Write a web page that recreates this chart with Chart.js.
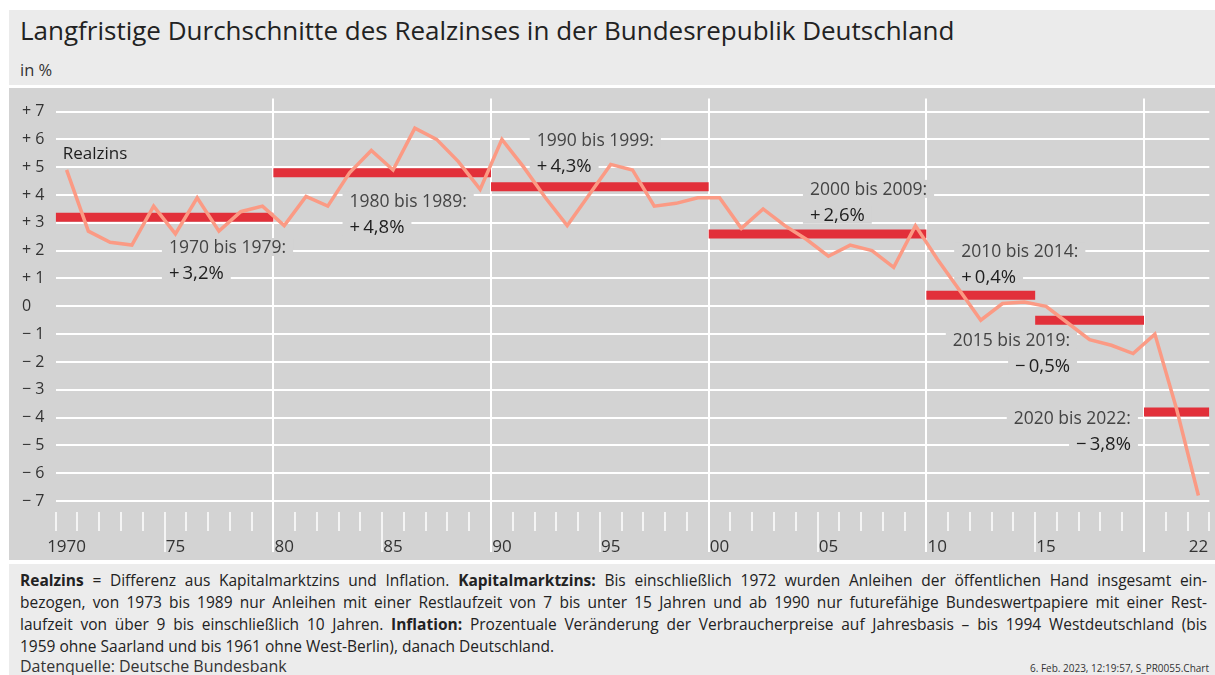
<!doctype html>
<html>

<head>
  <meta charset="utf-8">
  <script src="https://cdn.jsdelivr.net/npm/chart.js@4/dist/chart.umd.min.js"></script>
  <style>
    body { margin: 0; background: #fff; font-family: "Open Sans", sans-serif; color: #222; }
    #head { position: absolute; left: 9px; top: 10px; width: 1206px; height: 75px; background: #ebebeb; }
    #title { position: absolute; left: 11px; top: 4px; font-size: 26px; line-height: 32px; color: #222; white-space: nowrap; }
    #unit { position: absolute; left: 11px; top: 49px; font-size: 16.5px; line-height: 22px; color: #333; }
    #plot { position: absolute; left: 9px; top: 88px; width: 1206px; height: 472px; background: #d3d3d3; }
    #foot { position: absolute; left: 9px; top: 564px; width: 1206px; height: 111px; background: #ececec; }
    #foot .l { position: absolute; left: 11px; width: 1187px; font-size: 15.5px; line-height: 22px; color: #222; white-space: nowrap; }
    #foot .j { text-align: justify; text-align-last: justify; }
    #foot .src { position: absolute; left: 11px; top: 92px; font-size: 16px; line-height: 20px; color: #333; }
    #foot .stamp { position: absolute; right: 6px; top: 97px; font-size: 10px; line-height: 14px; color: #333; }
  </style>
</head>

<body>
  <div id="head">
    <div id="title">Langfristige Durchschnitte des Realzinses in der Bundesrepublik Deutschland</div>
    <div id="unit">in %</div>
  </div>
  <div id="plot"><canvas id="canvas" width="1206" height="472"></canvas></div>
  <div id="foot">
    <div class="l j" style="top:5px"><b>Realzins</b> = Differenz aus Kapitalmarktzins und Inflation. <b>Kapitalmarktzins:</b> Bis einschließlich 1972 wurden Anleihen der öffentlichen Hand insgesamt ein-</div>
    <div class="l j" style="top:27px">bezogen, von 1973 bis 1989 nur Anleihen mit einer Restlaufzeit von 7 bis unter 15 Jahren und ab 1990 nur futurefähige Bundeswertpapiere mit einer Rest-</div>
    <div class="l j" style="top:49px">laufzeit von über 9 bis einschließlich 10 Jahren. <b>Inflation:</b> Prozentuale Veränderung der Verbraucherpreise auf Jahresbasis – bis 1994 Westdeutschland (bis</div>
    <div class="l" style="top:71px">1959 ohne Saarland und bis 1961 ohne West-Berlin), danach Deutschland.</div>
    <div class="src">Datenquelle: Deutsche Bundesbank</div>
    <div class="stamp">6. Feb. 2023, 12:19:57, S_PR0055.Chart</div>
  </div>
  <script>
    // Realzins per year (%)
    const years = [1970, 1971, 1972, 1973, 1974, 1975, 1976, 1977, 1978, 1979,
      1980, 1981, 1982, 1983, 1984, 1985, 1986, 1987, 1988, 1989,
      1990, 1991, 1992, 1993, 1994, 1995, 1996, 1997, 1998, 1999,
      2000, 2001, 2002, 2003, 2004, 2005, 2006, 2007, 2008, 2009,
      2010, 2011, 2012, 2013, 2014, 2015, 2016, 2017, 2018, 2019,
      2020, 2021, 2022];
    const realzins = [4.9, 2.7, 2.3, 2.2, 3.6, 2.6, 3.9, 2.7, 3.4, 3.6,
      2.9, 3.95, 3.6, 4.8, 5.6, 4.9, 6.4, 6.0, 5.2, 4.2,
      6.0, 5.0, 3.9, 2.9, 4.0, 5.1, 4.9, 3.6, 3.7, 3.9,
      3.9, 2.8, 3.5, 2.9, 2.4, 1.8, 2.2, 2.0, 1.4, 2.9,
      1.7, 0.6, -0.5, 0.1, 0.15, 0.0, -0.6, -1.2, -1.4, -1.7,
      -1.0, -3.7, -6.8];

    // period averages
    const periodStart = [1970, 1980, 1990, 2000, 2010, 2015, 2020];
    const periodEnd = [1980, 1990, 2000, 2010, 2015, 2020, 2023];
    const periodMean = [3.2, 4.8, 4.3, 2.6, 0.4, -0.5, -3.8];
    const periodNames = ['1970 bis 1979:', '1980 bis 1989:', '1990 bis 1999:', '2000 bis 2009:',
      '2010 bis 2014:', '2015 bis 2019:', '2020 bis 2022:'];
    const periodLabels = ['+3,2%', '+4,8%', '+4,3%', '+2,6%', '+0,4%', '−0,5%', '−3,8%'];

    const yTicks = [-7, -6, -5, -4, -3, -2, -1, 0, 1, 2, 3, 4, 5, 6, 7];
    const xLabelYears = [1970, 1975, 1980, 1985, 1990, 1995, 2000, 2005, 2010, 2015, 2022];
    const xLabels = ['1970', '75', '80', '85', '90', '95', '00', '05', '10', '15', '22'];

    // where the period labels sit (data coords of first line, left or right edge)
    const noteAt = [
      { x: 1975.2, y: 2.13, align: 'left' },
      { x: 1983.5, y: 3.8, align: 'left' },
      { x: 1992.1, y: 5.98, align: 'left' },
      { x: 2004.65, y: 4.22, align: 'left' },
      { x: 2011.6, y: 1.98, align: 'left' },
      { x: 2016.6, y: -1.2, align: 'right' },
      { x: 2019.4, y: -4.0, align: 'right' }
    ];

    const BG = '#d3d3d3';

    const overlay = {
      id: 'overlay',
      beforeDatasetsDraw(chart) {
        const { ctx, chartArea: a, scales: { x, y } } = chart;
        ctx.save();
        ctx.strokeStyle = '#fff';
        // year ticks and decade lines
        for (let yr = 1970; yr <= 2023; yr++) {
          const px = Math.round(x.getPixelForValue(yr));
          let top = a.bottom - 3, end = a.bottom + 16, w = 1.5;
          if (yr % 10 === 0 && yr > 1970 && yr < 2023) { top = a.top + 1; end = a.bottom + 37; w = 2; }
          else if (yr % 5 === 0 && yr > 1970) { end = a.bottom + 37; }
          ctx.lineWidth = w;
          ctx.beginPath();
          ctx.moveTo(px, top);
          ctx.lineTo(px, end);
          ctx.stroke();
        }
        // x labels, centred on mid-year
        ctx.fillStyle = '#333';
        ctx.font = '17px "Open Sans"';
        ctx.textBaseline = 'alphabetic';
        ctx.textAlign = 'center';
        xLabelYears.forEach((yr, i) => {
          ctx.fillText(xLabels[i], x.getPixelForValue(yr + 0.5), a.bottom + 37);
        });

        // period labels with masks
        ctx.textBaseline = 'middle';
        const gap = y.getPixelForValue(0) - y.getPixelForValue(0.93);
        noteAt.forEach((n, i) => {
          const px = x.getPixelForValue(n.x);
          const py = y.getPixelForValue(n.y);
          const lines = [
            { t: periodNames[i], f: '17.5px "Open Sans"', c: '#444', y: py },
            { t: periodLabels[i].replace(/^([+−])/, '$1\u2009'), f: '500 18.5px "Open Sans"', c: '#1e1e1e', y: py + gap }
          ];
          lines.forEach(l => {
            ctx.font = l.f;
            const w = ctx.measureText(l.t).width;
            const left = n.align === 'left' ? px : px - w;
            ctx.fillStyle = BG;
            ctx.fillRect(left - 7, l.y - 9, w + 14, 18);
            ctx.fillStyle = l.c;
            ctx.textAlign = 'left';
            ctx.fillText(l.t, left, l.y + 1);
          });
        });

        // series name
        ctx.font = '500 17px "Open Sans"';
        ctx.fillStyle = '#1e1e1e';
        ctx.textAlign = 'left';
        ctx.fillText('Realzins', x.getPixelForValue(1970.32), y.getPixelForValue(5.46));
        ctx.restore();
      }
    };

    const barSets = periodMean.map((v, i) => ({
      data: [{ x: periodStart[i], y: v }, { x: periodEnd[i], y: v }],
      borderColor: '#e2303a',
      borderWidth: 9,
      borderCapStyle: 'butt',
      pointRadius: 0,
      order: 1
    }));

    new Chart(document.getElementById('canvas').getContext('2d'), {
      type: 'line',
      data: {
        datasets: [{
          data: years.map((yr, i) => ({ x: yr + 0.5, y: realzins[i] })),
          borderColor: '#fb9a84',
          borderWidth: 3.5,
          pointRadius: 0,
          tension: 0,
          borderJoinStyle: 'miter',
          order: 0
        }, ...barSets]
      },
      options: {
        responsive: false,
        animation: false,
        devicePixelRatio: 1,
        layout: { padding: { left: 13, right: 5.7, top: 9, bottom: 45 } },
        plugins: { legend: { display: false }, tooltip: { enabled: false } },
        scales: {
          x: {
            type: 'linear',
            min: 1970,
            max: 2023,
            display: false
          },
          y: {
            min: -7.5,
            max: 7.5,
            afterBuildTicks: s => { s.ticks = yTicks.map(v => ({ value: v })); },
            afterFit: s => { s.width = 33.7; },
            border: { display: false },
            grid: { color: '#fff', lineWidth: 2, drawTicks: false },
            ticks: {
              crossAlign: 'far',
              padding: 0,
              color: '#333',
              font: { family: 'Open Sans', size: 16 },
              callback: v => v > 0 ? '+ ' + v : (v < 0 ? '− ' + (-v) : '0')
            }
          }
        }
      },
      plugins: [overlay]
    });
  </script>
</body>

</html>
